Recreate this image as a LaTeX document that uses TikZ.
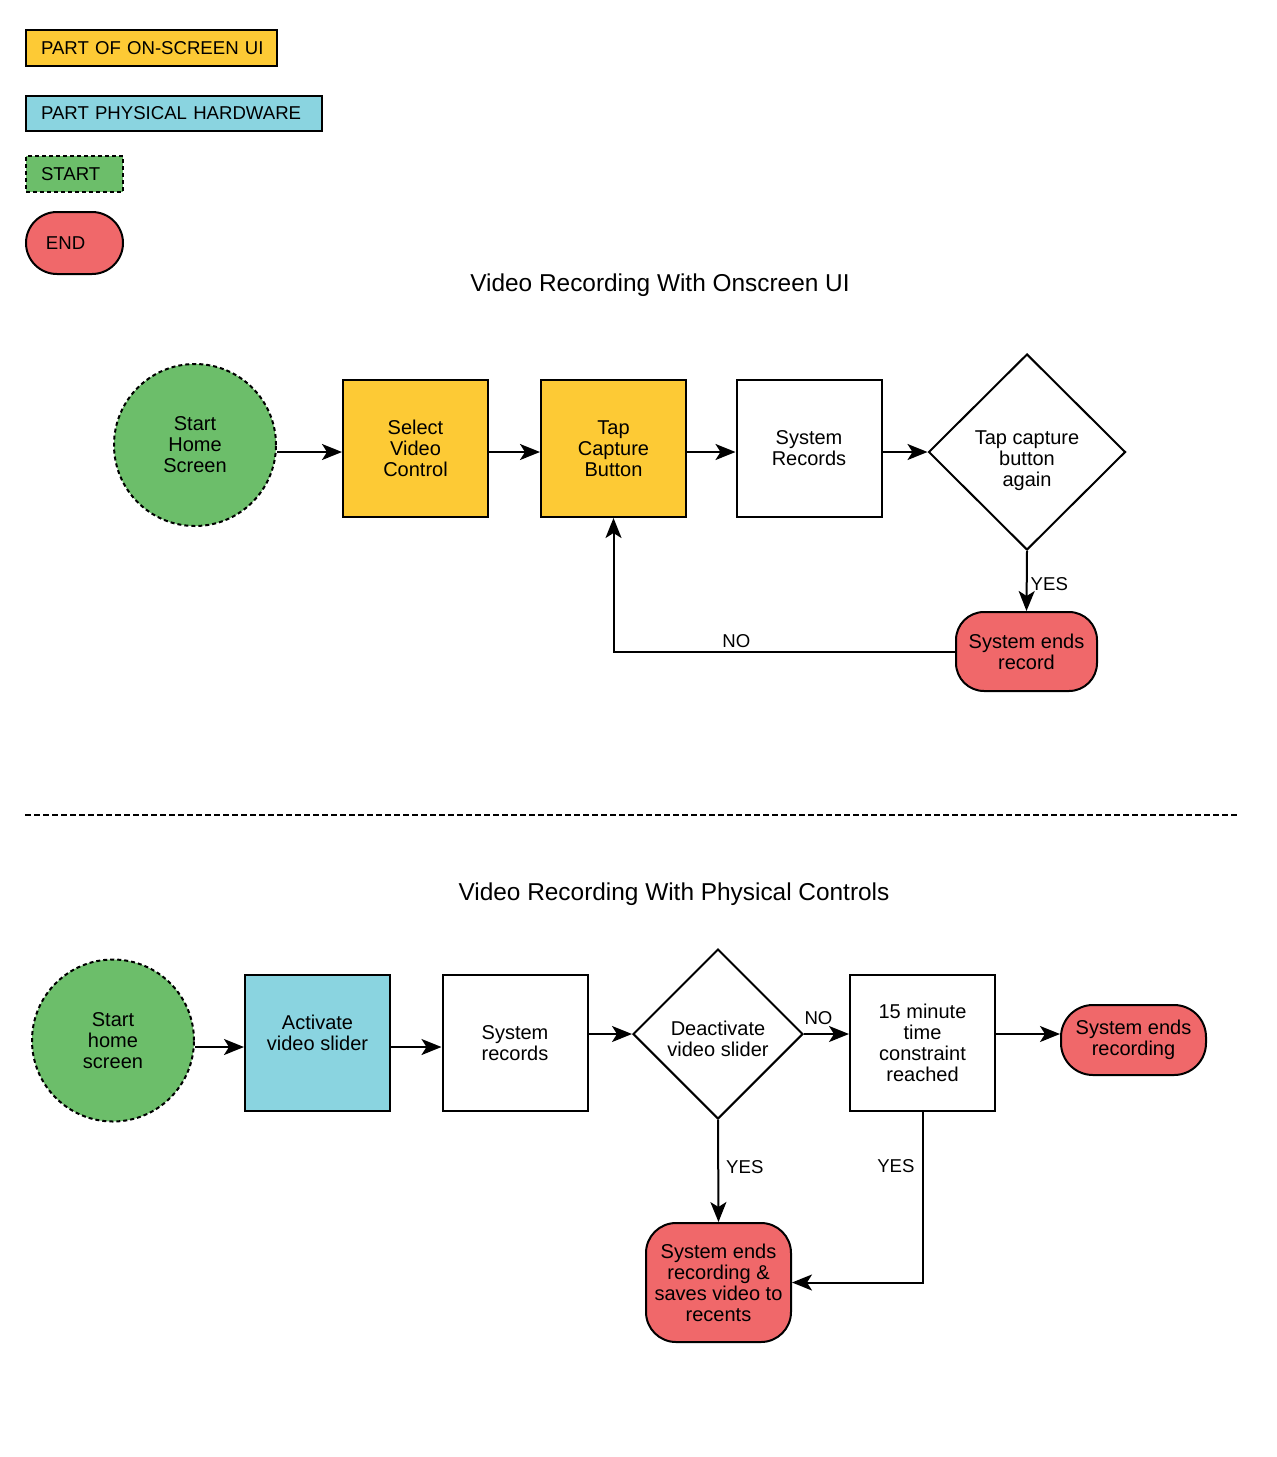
\documentclass[tikz,border=0pt]{standalone}
\usepackage{fontspec}
\setmainfont{Liberation Sans}
\usetikzlibrary{shapes.geometric,arrows.meta,positioning}
\definecolor{uiyellow}{HTML}{FDCA35}
\definecolor{hwblue}{HTML}{8AD4E0}
\definecolor{stgreen}{HTML}{6CBE6A}
\definecolor{endred}{HTML}{F0686A}
\tikzset{
  base/.style={draw=black, line width=1pt, align=center, inner sep=0pt,
    font=\fontsize{10}{10.5}\selectfont},
  boxnode/.style={base, rectangle, minimum width=72.5pt, minimum height=68.5pt},
  startnode/.style={base, circle, fill=stgreen, dash pattern=on 2pt off 1.5pt, minimum size=81pt},
  decnode/.style={base, diamond, aspect=1},
  endnode/.style={base, rectangle, fill=endred},
  legend/.style={draw=black, line width=1pt, inner ysep=0pt, anchor=west,
    font=\fontsize{9.3}{10}\selectfont, align=left},
  arr/.style={line width=1pt, -{Stealth[length=10pt,width=8pt,inset=2.5pt]}},
  lbl/.style={font=\fontsize{9.3}{10}\selectfont, inner sep=1.5pt},
  ttl/.style={font=\fontsize{12.2}{13}\selectfont},
}
\begin{document}
\begin{tikzpicture}[x=0.5pt,y=-0.5pt]
\useasboundingbox (0,0) rectangle (1276,1457);

% legend
\node[legend, fill=uiyellow, minimum height=18pt, inner xsep=7.5pt, text width=110.5pt] (lg1) at (25,48) {\mbox{PART OF ON-SCREEN UI}};
\node[legend, fill=hwblue, minimum height=17.5pt, inner xsep=7.5pt, text width=133pt] (lg2) at (25,113.5) {\mbox{PART PHYSICAL HARDWARE}};
\node[legend, fill=stgreen, dash pattern=on 2pt off 1.5pt, minimum height=18pt, inner xsep=7.5pt, text width=33.5pt] (lg3) at (25,174) {\mbox{START}};
\node[legend, fill=endred, rounded corners=15.5pt, minimum height=31pt, inner xsep=10pt, text width=28.5pt] (lg4) at (25,243) {\mbox{END}};

% titles
\node[ttl] (t1) at (660,285) {Video Recording With Onscreen UI};
\node[ttl] (t2) at (674,894) {Video Recording With Physical Controls};

% top flow
\node[startnode] (s1) at (195,445) {Start\\Home\\Screen};
\node[boxnode, fill=uiyellow] (sel) at (415.5,448.5) {Select\\Video\\Control};
\node[boxnode, fill=uiyellow] (tap) at (613.5,448.5) {Tap\\Capture\\Button};
\node[boxnode, fill=white] (rec) at (809,448.5) {System\\Records};
\node[decnode, minimum width=98.5pt, minimum height=98pt] (d1) at (1027,452) {\rule{0pt}{16pt}Tap capture\\button\\again};
\node[endnode, rounded corners=14pt, minimum width=70.5pt, minimum height=39.5pt] (er) at (1026.5,651.5) {System ends\\record};

\draw[arr] (s1.east |- d1.west) -- (sel.west |- d1.west);
\draw[arr] (sel.east |- d1.west) -- (tap.west |- d1.west);
\draw[arr] (tap.east |- d1.west) -- (rec.west |- d1.west);
\draw[arr] (rec.east |- d1.west) -- (d1.west);
\draw[arr] (d1.south) -- node[lbl, right, pos=0.55] {YES} (er.north);
\draw[arr] (er.west) -| node[lbl, above, pos=0.32] {NO} (tap.south);

% separator
\draw[line width=0.8pt, dash pattern=on 3pt off 1.5pt] (25,815) -- (1238,815);

% bottom flow
\coordinate (r2) at (0,1047);
\node[startnode] (s2) at (113,1040.5) {Start\\home\\screen};
\node[boxnode, fill=hwblue, minimum height=68pt] (act) at (317.5,1043) {Activate\\video slider\\\mbox{}};
\node[boxnode, fill=white, minimum height=68pt] (rec2) at (515,1043) {System\\records};
\node[decnode, minimum width=85pt, minimum height=85pt] (d2) at (718,1034) {\rule{0pt}{12pt}Deactivate\\video slider};
\node[boxnode, fill=white, minimum height=68pt] (m15) at (922.5,1043) {15 minute\\time\\constraint\\reached};
\node[endnode, rounded corners=16pt, minimum width=72.5pt, minimum height=35pt] (er2) at (1133.5,1040) {System ends\\recording};
\node[endnode, rounded corners=15pt, minimum width=72.5pt, minimum height=59.5pt] (sv) at (718.5,1282.5) {System ends\\recording \&\\saves video to\\recents};

\draw[arr] (s2.east |- r2) -- (act.west |- r2);
\draw[arr] (act.east |- r2) -- (rec2.west |- r2);
\draw[arr] (rec2.east |- d2.west) -- (d2.west);
\draw[arr] (d2.east) -- node[lbl, above, xshift=-4pt, yshift=2.5pt] {NO} (m15.west |- d2.east);
\draw[arr] (m15.east |- d2.east) -- (er2.west |- d2.east);
\draw[arr] (d2.south) -- node[lbl, right, xshift=2pt, pos=0.46] {YES} (sv.north);
\draw[arr] (m15.south) |- node[lbl, left, xshift=-2pt, pos=0.16] {YES} (sv.east);
\end{tikzpicture}
\end{document}
